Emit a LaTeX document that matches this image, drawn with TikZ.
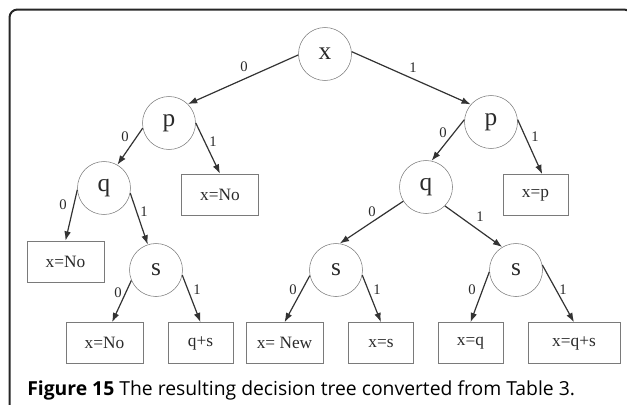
\documentclass[tikz,border=0pt]{standalone}
\usepackage{fontspec}
\setmainfont{Liberation Serif}
\newfontfamily\capfont{Open Sans}
\usetikzlibrary{arrows.meta}
\definecolor{edgegray}{HTML}{333333}
\definecolor{linegray}{HTML}{7A7A7A}
\definecolor{textgray}{HTML}{2A2A2A}
\begin{document}
\begin{tikzpicture}[x = 0.75pt, y = -0.75pt,
	test/.style = {draw = linegray, circle, minimum size = 39.75pt, inner sep = 0pt, text = textgray, font = \fontsize{19}{19}\selectfont},
	leaf/.style = {draw = linegray, rectangle, minimum height = 30.75pt, minimum width = 48.75pt, inner sep = 0pt, text = textgray, font = \fontsize{13}{13}\selectfont},
	wide/.style = {minimum width = 58pt},
	branch/.style = {draw = edgegray, line width = 0.9pt, -{Latex[length = 7pt, width = 5pt]}},
	bit/.style = {inner sep = 0pt, text = textgray, font = \fontsize{11}{11}\selectfont}]
	\useasboundingbox (0,0) rectangle (627,404);
	\clip (0,0) rectangle (627,404);
	\draw [line width = 1.5pt, draw = black!85, rounded corners = 6pt] (9.5,420) -- (9.5,9.5) -- (632,9.5) -- (632,420);
	% inner tests
	\node [test] (x) at (325,54) {x};
	\node [test] (pL) at (169,123) {p};
	\node [test] (pR) at (491,122) {p};
	\node [test] (qL) at (104,188) {q};
	\node [test] (qR) at (426,187) {q};
	\node [test] (sL) at (156,270) {s};
	\node [test] (sM) at (336,270) {s};
	\node [test] (sR) at (516,270) {s};
	% leaves
	\node [leaf, wide] (noP) at (220,194.5) {x=No};
	\node [leaf] (xp) at (535.5,195) {x=p};
	\node [leaf, wide] (noQ) at (65.5,261.5) {x=No};
	\node [leaf, wide] (noS) at (104.5,343) {x=No};
	\node [leaf] (qs) at (200.5,343) {q+s};
	\node [leaf, wide] (new) at (284.5,343) {x= New};
	\node [leaf] (xs) at (381,343) {x=s};
	\node [leaf] (xq) at (470.5,343) {x=q};
	\node [leaf, minimum width = 69pt] (xqs) at (574,343) {x=q+s};
	% branches
	\draw [branch] (x.182) -- (pL.45);
	\draw [branch] (x.5) -- (pR.139);
	\draw [branch] (pL.191) -- (qL.60);
	\draw [branch] (pL.0) -- (noP.north);
	\draw [branch] (qL.184) -- (noQ.north);
	\draw [branch] (qL.349) -- (sL.108);
	\draw [branch] (sL.203) -- (noS.70);
	\draw [branch] (sL.349) -- (qs.north);
	\draw [branch] (pR.175) -- (qR.78);
	\draw [branch] (pR.5) -- (xp.72);
	\draw [branch] (qR.212) -- (sM.82);
	\draw [branch] (qR.315) -- (sR.121);
	\draw [branch] (sM.192) -- (new.north);
	\draw [branch] (sM.349) -- (xs.north);
	\draw [branch] (sR.184) -- (xq.north);
	\draw [branch] (sR.11) -- (xqs.north);
	% branch values
	\node [bit] (b1) at (244,67) {0};
	\node [bit] (b2) at (413,68) {1};
	\node [bit] (b3) at (125,137) {0};
	\node [bit] (b4) at (213,142) {1};
	\node [bit] (b5) at (63,205) {0};
	\node [bit] (b6) at (144,212) {1};
	\node [bit] (b7) at (118,293) {0};
	\node [bit] (b8) at (197,290) {1};
	\node [bit] (b9) at (443,133) {0};
	\node [bit] (b10) at (535,137) {1};
	\node [bit] (b11) at (372,212) {0};
	\node [bit] (b12) at (480,217) {1};
	\node [bit] (b13) at (293,290) {0};
	\node [bit] (b14) at (377,290) {1};
	\node [bit] (b15) at (472,290) {0};
	\node [bit] (b16) at (563,290) {1};
	% caption
	\node [anchor = base west, inner sep = 0pt, text = black, font = \capfont\fontsize{14.5}{16}\selectfont] (cap) at (27,395) {\textbf{Figure 15} The resulting decision tree converted from Table 3.};
\end{tikzpicture}
\end{document}
